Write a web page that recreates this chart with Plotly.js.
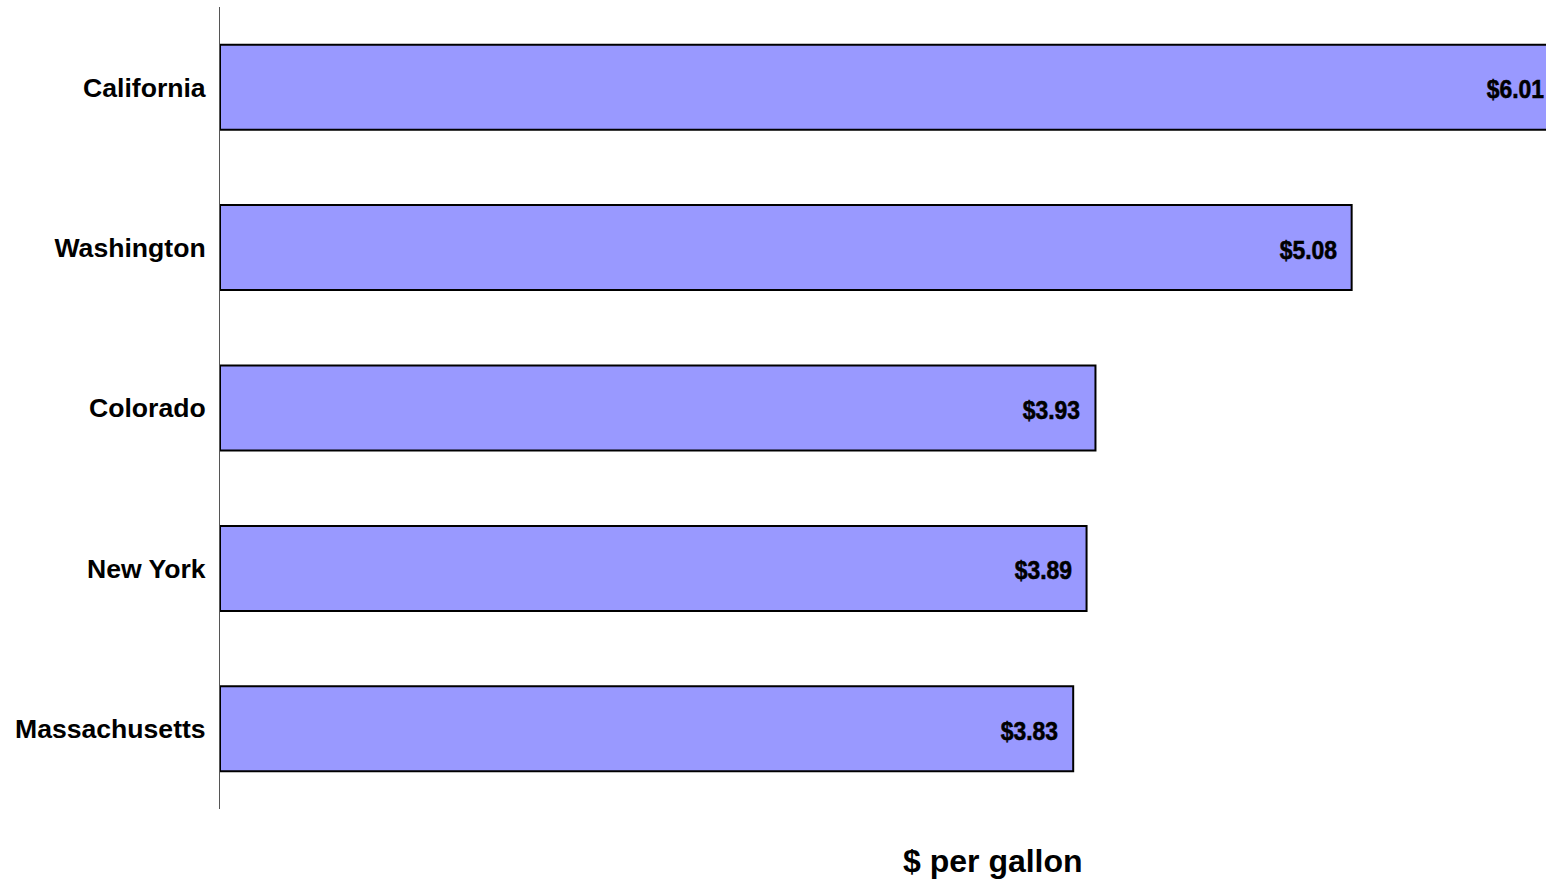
<!DOCTYPE html>
<html>
<head>
<meta charset="utf-8">
<script src="https://cdn.plot.ly/plotly-3.0.1.min.js"></script>
<style>
html, body { margin: 0; padding: 0; overflow: hidden; background: #fff; }
#chart { width: 1766px; height: 882px; }
</style>
</head>
<body>
<div id="chart"></div>
<script>
var states = ["California", "Washington", "Colorado", "New York", "Massachusetts"];
var prices = [6.01, 5.08, 3.93, 3.89, 3.83];
var priceLabels = ["$6.01", "$5.08", "$3.93", "$3.89", "$3.83"];
var axisTitle = "$ per gallon";

var sans = "'Liberation Sans', Arial, sans-serif";

var trace = {
  type: "bar",
  orientation: "h",
  x: prices,
  y: states,
  width: 0.53,
  marker: { color: "#9999FF", line: { color: "#000000", width: 2 } },
  hoverinfo: "none",
  cliponaxis: true
};

var annotations = states.map(function (s, i) {
  return {
    x: prices[i], y: s, xref: "x", yref: "y",
    text: "<b>" + priceLabels[i] + "</b>",
    showarrow: false, xanchor: "right", yanchor: "middle",
    xshift: -13, yshift: -2,
    font: { family: sans, size: 26, color: "#000" }
  };
});
annotations.push({
  x: 0.5, y: 0, xref: "paper", yref: "paper",
  text: "<b>" + axisTitle + "</b>",
  showarrow: false, xanchor: "center", yanchor: "middle", yshift: -52,
  font: { family: sans, size: 32, color: "#000" }
});

var layout = {
  width: 1766, height: 882,
  margin: { l: 220, r: 0, t: 7, b: 73, pad: 0 },
  paper_bgcolor: "#fff", plot_bgcolor: "#fff",
  showlegend: false,
  xaxis: {
    range: [0, 6.94], showgrid: false, zeroline: false, showline: false,
    showticklabels: false, ticks: "", fixedrange: true
  },
  yaxis: {
    type: "category", autorange: "reversed",
    showgrid: false, zeroline: false,
    showline: true, linecolor: "#555555", linewidth: 1,
    ticks: "", ticklabelstandoff: 8,
    tickfont: { family: sans, size: 26.6, color: "#000", weight: "bold" },
    fixedrange: true
  },
  annotations: annotations
};

Plotly.newPlot("chart", [trace], layout, { displayModeBar: false, staticPlot: true }).then(function (gd) {
  // Emulate a narrow bold face (like Arial Narrow Bold) for the value labels
  var texts = gd.querySelectorAll(".annotation-text");
  for (var i = 0; i < priceLabels.length && i < texts.length; i++) {
    var t = texts[i];
    var bb = t.getBBox();
    var right = bb.x + bb.width;
    t.setAttribute("text-anchor", "end");
    t.setAttribute("x", right);
    t.setAttribute("textLength", (bb.width * 0.88).toFixed(1));
    t.setAttribute("lengthAdjust", "spacingAndGlyphs");
    t.style.stroke = "#000";
    t.style.strokeWidth = "0.6px";
  }
});
</script>
</body>
</html>
